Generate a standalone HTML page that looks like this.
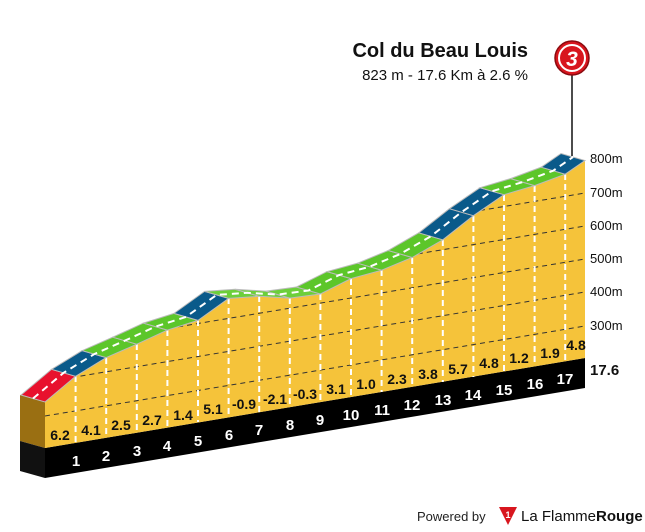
<!DOCTYPE html>
<html><head><meta charset="utf-8"><style>
body{margin:0;background:#fff}
svg{display:block}
.g{font-family:"Liberation Sans Narrow","Liberation Sans",sans-serif;font-weight:bold;font-size:14px;fill:#111;text-anchor:middle}
.k{font-family:"Liberation Sans Narrow","Liberation Sans",sans-serif;font-weight:bold;font-size:15px;fill:#fff;text-anchor:middle}
.e{font-family:"Liberation Sans",sans-serif;font-size:13px;fill:#111}
</style></head><body>
<svg width="645" height="532" viewBox="0 0 645 532">
<defs>
<clipPath id="yc"><polygon points="45,402 75.6,376.3 106.2,357.6 136.8,344.2 167.4,330.1 198,320.4 228.6,298.4 259.2,296.3 289.8,298.1 320.4,294 351,278.6 381.6,270.2 412.2,257.5 442.8,239.8 473.4,215.7 504,194.7 534.6,185.6 565.2,174.2 583.6,161.5 585,161.5 585,358 45,448"/></clipPath>
</defs>
<!-- side faces -->
<polygon points="20,395 45,402 45,448 20,441" fill="#9a6f12"/>
<polygon points="20,441 45,448 45,478 20,471" fill="#111"/>
<!-- black band -->
<polygon points="45,448 585,358 585,388 45,478" fill="#000"/>
<!-- yellow face -->
<polygon points="45,402 75.6,376.3 106.2,357.6 136.8,344.2 167.4,330.1 198,320.4 228.6,298.4 259.2,296.3 289.8,298.1 320.4,294 351,278.6 381.6,270.2 412.2,257.5 442.8,239.8 473.4,215.7 504,194.7 534.6,185.6 565.2,174.2 583.6,161.5 585,161.5 585,358 45,448" fill="#f5c33a"/>
<g clip-path="url(#yc)" stroke="#333" stroke-width="1" stroke-dasharray="5,4" fill="none">
<line x1="45" y1="416" x2="585" y2="326"/>
<line x1="45" y1="382" x2="585" y2="292"/>
<line x1="45" y1="349" x2="585" y2="259"/>
<line x1="45" y1="316" x2="585" y2="226"/>
<line x1="45" y1="283" x2="585" y2="193"/>
<line x1="45" y1="249" x2="585" y2="159"/>
</g>
<g stroke="#fff" stroke-width="2" stroke-dasharray="6,4">
<line x1="75.6" y1="376" x2="75.6" y2="443"/>
<line x1="106.2" y1="358" x2="106.2" y2="438"/>
<line x1="136.8" y1="344" x2="136.8" y2="433"/>
<line x1="167.4" y1="330" x2="167.4" y2="428"/>
<line x1="198" y1="320" x2="198" y2="422"/>
<line x1="228.6" y1="298" x2="228.6" y2="417"/>
<line x1="259.2" y1="296" x2="259.2" y2="412"/>
<line x1="289.8" y1="298" x2="289.8" y2="407"/>
<line x1="320.4" y1="294" x2="320.4" y2="402"/>
<line x1="351" y1="279" x2="351" y2="397"/>
<line x1="381.6" y1="270" x2="381.6" y2="392"/>
<line x1="412.2" y1="258" x2="412.2" y2="387"/>
<line x1="442.8" y1="240" x2="442.8" y2="382"/>
<line x1="473.4" y1="216" x2="473.4" y2="377"/>
<line x1="504" y1="195" x2="504" y2="372"/>
<line x1="534.6" y1="186" x2="534.6" y2="366"/>
<line x1="565.2" y1="174" x2="565.2" y2="361"/>
</g>
<!-- road ribbon -->
<g stroke="#bbb" stroke-width="1">
<polygon points="45,402 75.6,376.3 51.6,369.3 21,395" fill="#e8112d"/>
<polygon points="75.6,376.3 106.2,357.6 82.2,350.6 51.6,369.3" fill="#0a5a8a"/>
<polygon points="106.2,357.6 136.8,344.2 112.8,337.2 82.2,350.6" fill="#5cc62a"/>
<polygon points="136.8,344.2 167.4,330.1 143.4,323.1 112.8,337.2" fill="#5cc62a"/>
<polygon points="167.4,330.1 198,320.4 174,313.4 143.4,323.1" fill="#5cc62a"/>
<polygon points="198,320.4 228.6,298.4 204.6,291.4 174,313.4" fill="#0a5a8a"/>
<polygon points="228.6,298.4 259.2,296.3 235.2,289.3 204.6,291.4" fill="#6ccf3a"/>
<polygon points="259.2,296.3 289.8,298.1 265.8,291.1 235.2,289.3" fill="#6ccf3a"/>
<polygon points="289.8,298.1 320.4,294 296.4,287 265.8,291.1" fill="#6ccf3a"/>
<polygon points="320.4,294 351,278.6 327,271.6 296.4,287" fill="#5cc62a"/>
<polygon points="351,278.6 381.6,270.2 357.6,263.2 327,271.6" fill="#5cc62a"/>
<polygon points="381.6,270.2 412.2,257.5 388.2,250.5 357.6,263.2" fill="#5cc62a"/>
<polygon points="412.2,257.5 442.8,239.8 418.8,232.8 388.2,250.5" fill="#5cc62a"/>
<polygon points="442.8,239.8 473.4,215.7 449.4,208.7 418.8,232.8" fill="#0a5a8a"/>
<polygon points="473.4,215.7 504,194.7 480,187.7 449.4,208.7" fill="#0a5a8a"/>
<polygon points="504,194.7 534.6,185.6 510.6,178.6 480,187.7" fill="#5cc62a"/>
<polygon points="534.6,185.6 565.2,174.2 541.2,167.2 510.6,178.6" fill="#5cc62a"/>
<polygon points="565.2,174.2 585,160.5 561,153.5 541.2,167.2" fill="#0a5a8a"/>
</g>
<polyline points="33,398.5 63.6,372.8 94.2,354.1 124.8,340.7 155.4,326.6 186,316.9 216.6,294.9 247.2,292.8 277.8,294.6 308.4,290.5 339,275.1 369.6,266.7 400.2,254 430.8,236.3 461.4,212.2 492,191.2 522.6,182.1 553.2,170.7 573,157" fill="none" stroke="#fff" stroke-width="2" stroke-dasharray="7,5"/>
<!-- gradients -->
<g class="g">
<text x="60" y="440">6.2</text><text x="91" y="435">4.1</text><text x="121" y="430">2.5</text>
<text x="152" y="425">2.7</text><text x="183" y="420">1.4</text><text x="213" y="414">5.1</text>
<text x="244" y="409">-0.9</text><text x="275" y="404">-2.1</text><text x="305" y="399">-0.3</text>
<text x="336" y="394">3.1</text><text x="366" y="389">1.0</text><text x="397" y="384">2.3</text>
<text x="428" y="379">3.8</text><text x="458" y="374">5.7</text><text x="489" y="368">4.8</text>
<text x="519" y="363">1.2</text><text x="550" y="358">1.9</text><text x="576" y="350">4.8</text>
</g>
<g class="k">
<text x="76" y="466">1</text><text x="106" y="461">2</text><text x="137" y="456">3</text>
<text x="167" y="451">4</text><text x="198" y="446">5</text><text x="229" y="440">6</text>
<text x="259" y="435">7</text><text x="290" y="430">8</text><text x="320" y="425">9</text>
<text x="351" y="420">10</text><text x="382" y="415">11</text><text x="412" y="410">12</text>
<text x="443" y="405">13</text><text x="473" y="400">14</text><text x="504" y="395">15</text>
<text x="535" y="389">16</text><text x="565" y="384">17</text>
</g>
<g class="e">
<text x="590" y="163">800m</text><text x="590" y="197">700m</text><text x="590" y="230">600m</text>
<text x="590" y="263">500m</text><text x="590" y="296">400m</text><text x="590" y="330">300m</text>
</g>
<text x="590" y="375" font-family="Liberation Sans Narrow,Liberation Sans,sans-serif" font-weight="bold" font-size="15" fill="#111">17.6</text>
<!-- title -->
<text x="528" y="57" text-anchor="end" font-family="Liberation Sans,sans-serif" font-weight="bold" font-size="20" fill="#111">Col du Beau Louis</text>
<text x="528" y="80" text-anchor="end" font-family="Liberation Sans,sans-serif" font-size="15" fill="#111">823 m - 17.6 Km à 2.6 %</text>
<line x1="572" y1="70" x2="572" y2="156" stroke="#111" stroke-width="1.5"/>
<circle cx="572" cy="58" r="17" fill="#d8161e" stroke="#8a0a0f" stroke-width="1.5"/>
<circle cx="572" cy="58" r="13" fill="none" stroke="#fff" stroke-width="2"/>
<text x="572" y="66" text-anchor="middle" font-family="Liberation Sans,sans-serif" font-weight="bold" font-style="italic" font-size="21" fill="#fff">3</text>
<!-- footer -->
<text x="417" y="521" font-family="Liberation Sans,sans-serif" font-size="13" fill="#222">Powered by</text>
<polygon points="499,507 517,507 508,525" fill="#d8161e"/>
<text x="508" y="518" text-anchor="middle" font-family="Liberation Sans,sans-serif" font-weight="bold" font-size="9" fill="#fff">1</text>
<text x="521" y="521" font-family="Liberation Sans,sans-serif" font-size="15" fill="#111">La Flamme<tspan font-weight="bold">Rouge</tspan></text>
</svg>
</body></html>
